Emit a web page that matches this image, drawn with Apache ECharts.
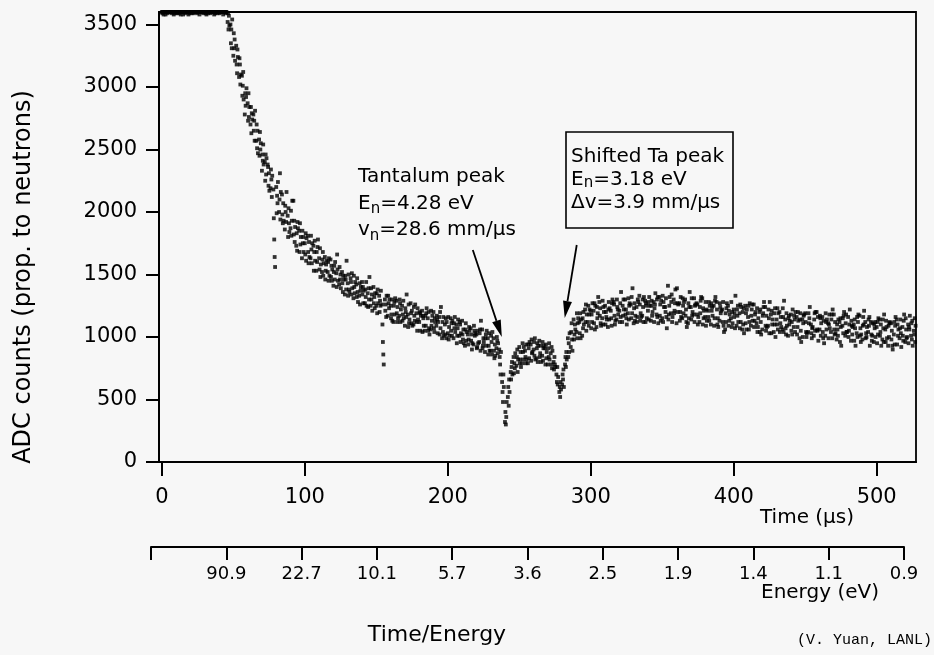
<!DOCTYPE html>
<html><head><meta charset="utf-8">
<script src="https://cdn.jsdelivr.net/npm/echarts@6/dist/echarts.min.js"></script>
<style>html,body{margin:0;padding:0;background:#f7f7f7;}#c{width:934px;height:655px;}</style>
</head><body><div id="c"></div>
<script>
const timeTickValues = [0, 100, 200, 300, 400, 500];
const countTickValues = [0, 500, 1000, 1500, 2000, 2500, 3000, 3500];
const energyTickLabels = ['', '90.9', '22.7', '10.1', '5.7', '3.6', '2.5', '1.9', '1.4', '1.1', '0.9'];
const timeStartUs = 0, timeStepUs = 2, subOffsetUs = 0.3;

const countsA = [
3600,3600,3590,3600,3600,3600,3590,3600,3600,3600,3600,3590,3600,3600,3600,3600,3600,3590,3600,3600,3600,3600,3600,
3520,3500,3250,3330,3080,3090,2780,2870,2700,2780,2570,2580,2330,2400,2380,2190,2180,
2200,2000,2140,1860,1970,1870,2090,1730,1850,1630,1750,1810,1630,1730,1530,1630,
1520,1640,1520,1620,1410,1510,1420,1520,1340,1430,1470,1310,1420,1330,1440,1270,1350,1250,1400,1250,1330,
1260,
1300,1170,1250,1120,1290,1170,1250,1090,1180,1270,1100,1190,1120,1210,1050,1150,1060,1200,1090,1160,
990,1100,1030,1150,990,1100,1010,1130,930,1020,1070,940,1020,960,1060,880,990,890,990,910,
900,640,320,520,720,
840,770,920,790,890,790,940,900,830,970,850,910,780,870,
800,700,560,620,780,
990,920,1140,1040,1120,1010,1220,1120,1210,
1210,1080,1280,1150,1250,1080,1210,1280,1140,1210,
1120,1300,1190,1260,1110,1240,1330,1170,1290,1210,
1130,1280,1180,1320,1150,1240,1410,1190,1300,1110,
1270,1150,1300,1110,1240,1180,1270,1120,1310,1160,
1210,1100,1250,1280,1130,1220,1060,1250,1150,1220,
1090,1190,1060,1250,1160,1090,1260,1110,1200,1060,
1240,1090,1180,1040,1140,1200,1060,1140,1010,1180,
1080,1160,990,1140,1190,1040,1100,1010,1200,1060,
1160,1010,1110,1040,1180,980,1120,1090,1010,1160,
970,1100,1030,1170,980,1120,1040,1120,960,1080,
1140,980,1060,930,1110,1020,1140,990,1080,960,
1100,1010,1050];

const countsB = [
3590,3600,3600,3600,3580,3600,3600,3600,3590,3600,3600,3600,3600,3580,3600,3600,3590,3600,3600,3600,3590,3600,3600,
3590,3350,3430,3180,3230,2930,2950,2730,2840,2650,2700,2450,2460,2250,2360,2340,1950,
1990,2100,1980,2050,1800,2010,1820,1830,1680,1850,1660,1680,1810,1530,1680,1540,
1620,1460,1600,1480,1520,1400,1560,1430,1490,1330,1440,1490,1320,1430,1340,1380,1240,1390,1270,1350,1200,
1100,
1210,1330,1150,1250,1190,1300,1130,1230,1080,1190,1240,1120,1200,1040,1170,1050,1210,1070,1170,1020,
1120,1020,1160,1050,1110,950,1120,1020,1060,940,970,1090,910,1030,910,990,860,1010,890,1000,
840,560,400,600,660,
710,840,790,950,840,940,810,960,910,840,960,780,910,780,
740,640,600,700,840,
840,1040,980,1190,1030,1150,1120,1250,1070,
1110,1240,1170,1290,1100,1220,1150,1260,1300,1120,
1250,1180,1310,1150,1230,1120,1260,1300,1120,1280,
1250,1120,1300,1170,1330,1200,1140,1280,1190,1390,
1130,1310,1170,1270,1140,1310,1180,1240,1100,1280,
1160,1270,1090,1220,1270,1120,1190,1090,1280,1160,
1220,1070,1200,1110,1250,1170,1080,1230,1040,1170,
1090,1220,1030,1190,1100,1040,1230,1070,1150,1050,
1170,1020,1140,1000,1120,1190,1030,1140,1060,1170,
1040,1190,990,1140,1060,1100,960,1150,1110,1000,
1130,970,1160,1010,1090,990,1140,1020,1100,950,
1010,1140,960,1090,980,1120,940,1070,1010,1150,
950,1110,1020];

const countsC = [
3600,3580,3600,3600,3600,3590,3600,3600,3600,3580,3600,3600,3590,3600,3600,3590,3600,3600,3580,3600,3600,3600,3590,
3460,3460,3310,3110,3180,3010,2850,2950,2630,2730,2510,2640,2410,2460,2210,2260,1780,
2130,2310,1910,2000,2030,1810,1930,1690,1910,1750,1830,1590,1700,1680,1600,1710,
1680,1530,1450,1570,1570,1660,1460,1360,1460,1500,1340,1400,1470,1260,1400,1320,1390,1300,1320,1190,1290,
960,
1260,1270,1180,1280,1120,1270,1180,1200,1260,1110,1170,1050,1190,1170,1090,1200,1090,1040,1140,1200,
1040,1150,980,1110,1070,1010,1100,980,1110,980,1020,1050,920,1060,930,1020,930,960,830,970,
780,480,300,450,760,
790,900,820,880,790,910,980,850,950,870,810,940,840,920,
840,760,520,660,760,
950,1110,1020,990,1190,1070,1260,1090,1180,
1270,1150,1230,1100,1200,1280,1090,1170,1240,1270,
1170,1220,1140,1320,1270,1160,1130,1240,1270,1140,
1290,1230,1160,1260,1120,1310,1180,1340,1210,1270,
1200,1250,1220,1150,1310,1120,1260,1190,1230,1090,
1280,1210,1150,1100,1240,1280,1120,1210,1080,1190,
1170,1260,1100,1190,1060,1220,1130,1040,1220,1190,
1050,1150,1210,1100,1230,1110,1160,1020,1170,1120,
1140,1080,1190,1110,1040,1110,990,1190,1050,1150,
990,1120,1100,1180,1020,1060,1150,1030,1180,1050,
1090,1140,1000,1070,1160,1030,1090,970,1070,1120,
1040,1070,1130,1000,1050,940,1100,1140,970,1060,
1080,980,1150];

const countsD = [
3600,3600,3600,3590,3600,3600,3600,3580,3600,3600,3590,3600,3600,3600,3590,3600,3600,3600,3600,3590,3600,3580,3600,
3570,3310,3380,3300,3020,3120,2920,2760,2790,2570,2650,2500,2540,2300,2310,2120,1640,
2070,1940,2070,1920,1910,1930,1760,1920,1740,1800,1610,1760,1590,1770,1720,1480,
1490,1580,1630,1450,1460,1540,1500,1490,1380,1380,1510,1350,1360,1370,1270,1440,1300,1340,1230,1380,1250,
860,
1160,1230,1300,1180,1240,1120,1290,1160,1110,1210,1130,1230,1050,1150,1190,1070,1130,1150,1030,1070,
1160,990,1080,1010,1160,1070,960,1060,970,1080,900,1010,1050,890,990,930,1030,860,940,870,
700,700,360,660,800,
750,720,880,820,940,830,870,990,800,930,910,830,950,750,
780,620,640,740,880,
880,980,1100,1110,990,1200,1050,1180,1120,
1060,1190,1110,1240,1160,1140,1270,1100,1220,1160,
1300,1150,1250,1190,1130,1300,1190,1120,1250,1320,
1170,1260,1320,1130,1280,1160,1250,1120,1270,1200,
1320,1190,1120,1240,1170,1250,1100,1290,1150,1220,
1130,1240,1290,1150,1190,1090,1230,1130,1200,1070,
1250,1120,1230,1060,1120,1260,1180,1080,1120,1240,
1170,1030,1100,1230,1060,1160,1040,1190,1100,1020,
1040,1200,1050,1170,1000,1150,1070,1050,1160,1010,
1130,1060,1180,990,1120,1010,1080,1170,1040,1100,
1020,1070,1120,960,1100,1000,1160,1010,1120,1020,
1100,960,1080,1110,930,1090,1010,1030,1130,990,
1060,1130,960];

const countsE = [
3580,3600,3600,3600,3590,3600,3580,3600,3600,3590,3600,3600,3600,3600,3600,3580,3600,3600,3590,3600,3600,3600,3600,
3490,3540,3210,3240,3100,2900,2990,2840,2740,2810,2470,2550,2380,2430,2170,2290,1560,
2240,2160,1930,2160,1840,2090,1880,1870,1800,1680,1790,1640,1750,1610,1780,1580,
1590,1610,1490,1540,1600,1450,1390,1460,1610,1360,1390,1440,1280,1400,1370,1250,1480,1210,1350,1270,1370,
780,
1330,1300,1130,1310,1150,1220,1150,1340,1140,1090,1260,1140,1170,1090,1230,1020,1170,1120,1120,1240,
1010,1120,1010,1130,1040,1140,1030,950,1040,1050,950,1030,950,1130,960,1050,890,1040,850,950,
880,600,480,560,700,
870,820,760,920,820,960,880,820,930,800,930,880,820,890,
760,680,580,600,820,
1030,890,1060,1150,1140,1100,1180,1220,1270,
1250,1320,1090,1200,1140,1230,1300,1130,1180,1360,
1220,1100,1270,1390,1170,1280,1160,1320,1150,1250,
1200,1350,1110,1290,1240,1070,1320,1160,1380,1260,
1160,1280,1080,1360,1200,1260,1160,1320,1210,1130,
1250,1170,1320,1080,1210,1040,1270,1180,1110,1330,
1120,1240,1030,1220,1270,1130,1200,1150,1020,1280,
1080,1280,1140,1000,1190,1080,1290,1090,1130,1220,
1200,1130,960,1180,1030,1240,1080,1200,970,1110,
950,1140,1070,1220,1030,1140,930,1200,1040,1220,
1080,930,1180,1020,1210,1080,930,1110,1000,1150,
930,1180,990,1120,900,1160,1060,920,1180,1000,
1170,930,1090];

// annotation arrows: [tail, tip] in data coordinates (time µs, counts)
const arrowTantalum = [[217.5, 1696], [237.8, 1000]];
const arrowShifted = [[290.2, 1736], [281.8, 1152]];

const FONT = 'DejaVu Sans';
const INK = '#000';

function toPoints(arr, k) {
  return arr.map((v, i) => [timeStartUs + i * timeStepUs + k * subOffsetUs, v]);
}

const chart = echarts.init(document.getElementById('c'), null, {renderer: 'canvas'});
const allCounts = [countsA, countsB, countsC, countsD, countsE];
const series = allCounts.map((arr, k) => ({
  type: 'scatter', xAxisIndex: 0, yAxisIndex: 0,
  data: toPoints(arr, k), symbol: 'rect', symbolSize: 3.8,
  itemStyle: {color: '#000'}, silent: true, animation: false
}));
series.push({type: 'scatter', xAxisIndex: 1, yAxisIndex: 1, data: []});

function rich(lh, subLh) {
  return {
    m: {fontSize: 20, fontFamily: FONT, fill: INK, lineHeight: lh},
    s: {fontSize: 15, fontFamily: FONT, fill: INK, lineHeight: subLh, verticalAlign: 'bottom'}
  };
}
const plainNum = v => String(v);

chart.setOption({
  backgroundColor: '#f7f7f7',
  animation: false,
  grid: [
    {left: 159, right: 18, top: 12, bottom: 193, show: true, borderColor: INK, borderWidth: 1.8},
    {left: 151, right: 30, top: 546, height: 1, show: false}
  ],
  xAxis: [
    {type: 'value', gridIndex: 0, min: -2, max: 527.5,
     axisLine: {show: true, onZero: false, lineStyle: {color: INK, width: 2}},
     axisTick: {show: true, inside: false, length: 14, lineStyle: {color: INK, width: 2}, customValues: timeTickValues},
     axisLabel: {customValues: timeTickValues, formatter: plainNum, fontSize: 21, fontFamily: FONT, color: INK, margin: 25},
     splitLine: {show: false}},
    {type: 'value', gridIndex: 1, min: 0, max: 10, interval: 1,
     axisLine: {show: true, onZero: false, lineStyle: {color: INK, width: 2}},
     axisTick: {show: true, inside: false, length: 13, lineStyle: {color: INK, width: 2}},
     axisLabel: {fontSize: 18, fontFamily: FONT, color: INK, margin: 18,
                 formatter: v => energyTickLabels[Math.round(v)] || ''},
     splitLine: {show: false}}
  ],
  yAxis: [
    {type: 'value', gridIndex: 0, min: 0, max: 3600,
     axisLine: {show: true, onZero: false, lineStyle: {color: INK, width: 2}},
     axisTick: {show: true, inside: false, length: 13, lineStyle: {color: INK, width: 2}, customValues: countTickValues},
     axisLabel: {customValues: countTickValues, formatter: plainNum, fontSize: 21, fontFamily: FONT, color: INK, margin: 22},
     splitLine: {show: false}},
    {type: 'value', gridIndex: 1, min: 0, max: 1, show: false}
  ],
  series: series
});

function arrowGraphics(arrow) {
  const p0 = chart.convertToPixel({xAxisIndex: 0, yAxisIndex: 0}, arrow[0]);
  const p1 = chart.convertToPixel({xAxisIndex: 0, yAxisIndex: 0}, arrow[1]);
  const dx = p1[0] - p0[0], dy = p1[1] - p0[1];
  const len = Math.sqrt(dx * dx + dy * dy);
  const ux = dx / len, uy = dy / len;
  const headLen = 17, headHalf = 4.5;
  const bx = p1[0] - ux * headLen, by = p1[1] - uy * headLen;
  return [
    {type: 'line', shape: {x1: p0[0], y1: p0[1], x2: bx, y2: by},
     style: {stroke: INK, lineWidth: 1.8}},
    {type: 'polygon', shape: {points: [[p1[0], p1[1]], [bx - uy * headHalf, by + ux * headHalf], [bx + uy * headHalf, by - ux * headHalf]]},
     style: {fill: INK}}
  ];
}

chart.setOption({
  graphic: [
    {type: 'text', x: 24, y: 277, rotation: Math.PI / 2,
     style: {text: 'ADC counts (prop. to neutrons)', fontSize: 24, fontFamily: FONT, fill: INK,
             align: 'center', verticalAlign: 'middle', textAlign: 'center', textVerticalAlign: 'middle'}},
    {type: 'text', x: 358, y: 164,
     style: {text: '{m|Tantalum peak}\n{m|E}{s|n}{m|=4.28 eV}\n{m|v}{s|n}{m|=28.6 mm/µs}',
             rich: rich(26.5, 14), fill: INK, align: 'left', verticalAlign: 'top', textAlign: 'left', textVerticalAlign: 'top'}},
    {type: 'rect', shape: {x: 566, y: 132, width: 167, height: 96},
     style: {fill: 'none', stroke: INK, lineWidth: 1.6}},
    {type: 'text', x: 571, y: 145,
     style: {text: '{m|Shifted Ta peak}\n{m|E}{s|n}{m|=3.18 eV}\n{m|Δv=3.9 mm/µs}',
             rich: rich(23, 10), fill: INK, align: 'left', verticalAlign: 'top', textAlign: 'left', textVerticalAlign: 'top'}},
    {type: 'text', x: 760, y: 518,
     style: {text: 'Time (µs)', fontSize: 20, fontFamily: FONT, fill: INK,
             align: 'left', verticalAlign: 'middle', textAlign: 'left', textVerticalAlign: 'middle'}},
    {type: 'text', x: 761, y: 593,
     style: {text: 'Energy (eV)', fontSize: 20, fontFamily: FONT, fill: INK,
             align: 'left', verticalAlign: 'middle', textAlign: 'left', textVerticalAlign: 'middle'}},
    {type: 'text', x: 437, y: 635,
     style: {text: 'Time/Energy', fontSize: 22, fontFamily: FONT, fill: INK,
             align: 'center', verticalAlign: 'middle', textAlign: 'center', textVerticalAlign: 'middle'}},
    {type: 'text', x: 797, y: 640,
     style: {text: '(V. Yuan, LANL)', fontSize: 15, fontFamily: 'Liberation Mono', fill: INK,
             align: 'left', verticalAlign: 'middle', textAlign: 'left', textVerticalAlign: 'middle'}}
  ].concat(arrowGraphics(arrowTantalum), arrowGraphics(arrowShifted))
});
</script>
</body></html>
